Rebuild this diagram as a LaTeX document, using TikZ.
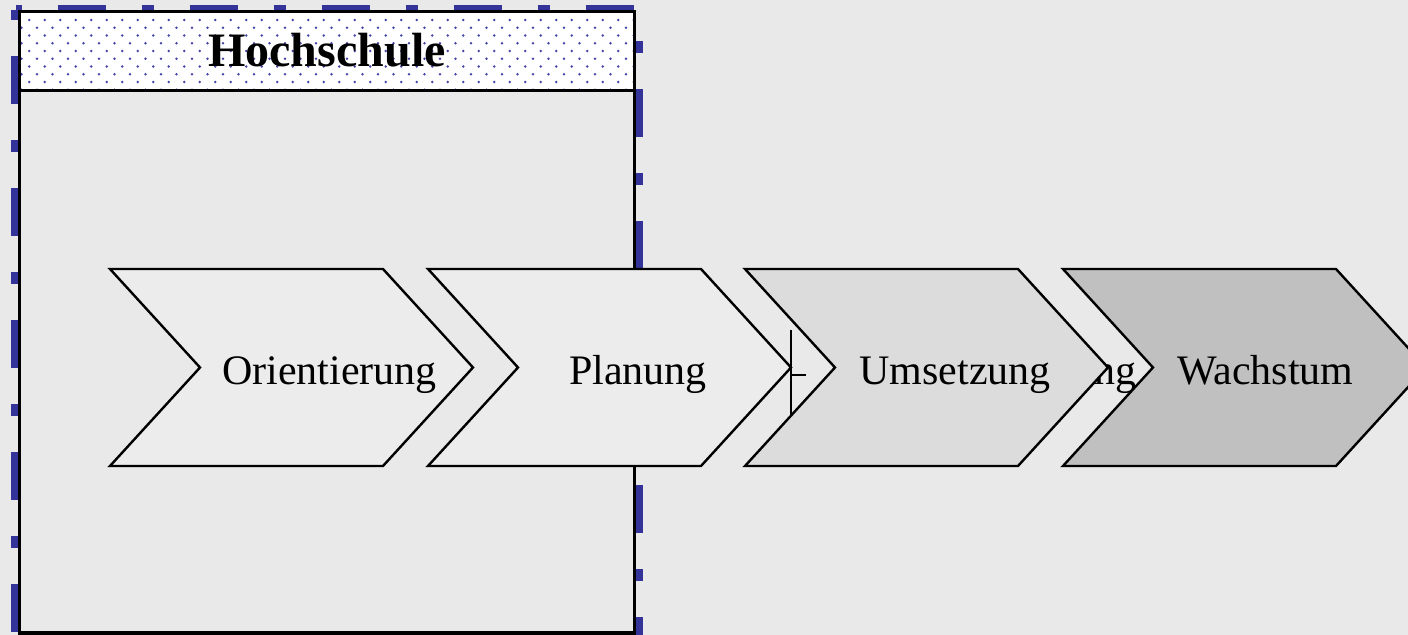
\documentclass[tikz,border=0pt]{standalone}
\usepackage{fontspec}
\setmainfont{Liberation Serif}
\definecolor{bggray}{RGB}{233,233,233}
\definecolor{chevlight}{RGB}{236,236,236}
\definecolor{chevmid}{RGB}{220,220,220}
\definecolor{chevdark}{RGB}{192,192,192}
\definecolor{frameblue}{RGB}{51,51,153}
\definecolor{dotblue}{RGB}{70,70,170}
\tikzset{
  chev/.style={draw=black, line width=1.2pt, line join=miter},
  phase/.style={inner sep=0pt, anchor=base, font=\fontsize{21}{25}\selectfont},
  blueframe/.style={draw=frameblue, line width=4.5pt, dash pattern=on 6pt off 18pt on 24pt off 18pt}
}
\begin{document}
\begin{tikzpicture}[x=0.5pt,y=-0.5pt]
		\useasboundingbox (0,0) rectangle (1408,635);
		\fill[bggray] (0,0) rectangle (1408,635);
		
		\draw[blueframe, dash phase=3pt] (15.5,10) -- (638.5,10) -- (638.5,640);
		\draw[blueframe, dash phase=1pt] (15.5,10) -- (15.5,640) -- (638.5,640);
		
		\filldraw[fill=bggray, draw=black, line width=1.5pt] (19,12) rectangle (634,633);
		\fill[white] (19,12) rectangle (634,91);
		\begin{scope}
		\clip (19,12) rectangle (634,91);
		\foreach \r in {0,...,9} {
			\pgfmathsetmacro{\xs}{isodd(\r) ? 21.5 : 29.25}
			\foreach \c in {0,...,39}
				\fill[dotblue] ({\xs+15.5*\c},{20+7.75*\r}) circle (0.65pt);
		}
		\end{scope}
		\draw[black, line width=1.5pt] (19,12) rectangle (634,91);
		\node[inner sep=0pt, anchor=base, font=\bfseries\fontsize{24}{28}\selectfont] (hs) at (327,67) {Hochschule};
		
		\filldraw[chev, fill=chevlight] (110,269) -- (383,269) -- (473,367.5) -- (383,466) -- (110,466) -- (200,367.5) -- cycle;
		\node[phase] (orient) at (329.5,385) {Orientierung};
		
		\filldraw[chev, fill=chevlight] (428,269) -- (701,269) -- (791,367.5) -- (701,466) -- (428,466) -- (518,367.5) -- cycle;
		\node[phase] (plan) at (638,385) {Planung};
		
		\node[phase, anchor=base east] (hidden) at (1137,385) {ng};
		
		\filldraw[chev, fill=chevmid] (745,269) -- (1018,269) -- (1108,367.5) -- (1018,466) -- (745,466) -- (835,367.5) -- cycle;
		\node[phase] (umsetz) at (955,385) {Umsetzung};
		
		\filldraw[chev, fill=chevdark] (1063,269) -- (1336,269) -- (1426,367.5) -- (1336,466) -- (1063,466) -- (1153,367.5) -- cycle;
		\node[phase] (wachs) at (1265.5,385) {Wachstum};
		
		\draw[line width=1.2pt] (791,330) -- (791,416);
		\draw[line width=1.2pt] (791,375) -- (806,375);
	
\end{tikzpicture}
\end{document}
